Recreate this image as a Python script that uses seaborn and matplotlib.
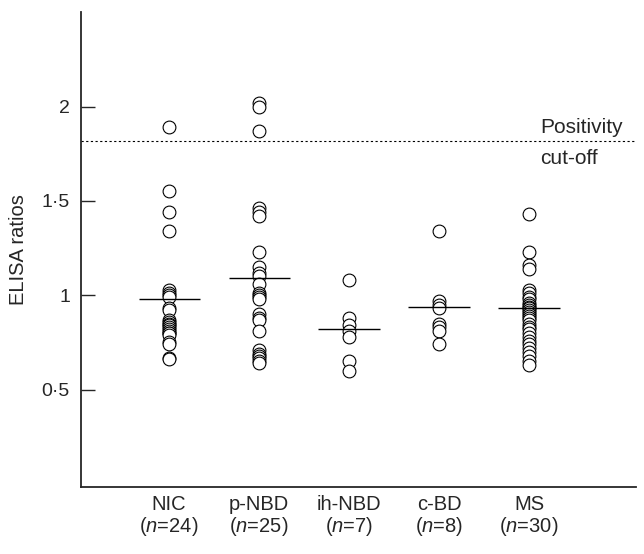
import matplotlib
matplotlib.use("Agg")
import matplotlib.pyplot as plt
import seaborn as sns
import pandas as pd

# Values
groups = ["NIC", "p-NBD", "ih-NBD", "c-BD", "MS"]
group_n = [24, 25, 7, 8, 30]
nic = [1.89, 1.55, 1.44, 1.34, 1.03, 1.01, 1.00, 0.99, 0.93, 0.92, 0.87, 0.86,
       0.85, 0.84, 0.83, 0.82, 0.81, 0.80, 0.80, 0.79, 0.75, 0.74, 0.67, 0.66]
p_nbd = [2.02, 2.00, 1.87, 1.46, 1.44, 1.42, 1.23, 1.15, 1.12, 1.10, 1.06, 1.01, 1.00,
         0.99, 0.98, 0.90, 0.88, 0.87, 0.81, 0.71, 0.69, 0.68, 0.67, 0.65, 0.64]
ih_nbd = [1.08, 0.88, 0.84, 0.81, 0.78, 0.65, 0.60]
c_bd = [1.34, 0.97, 0.95, 0.93, 0.85, 0.83, 0.81, 0.74]
ms = [1.43, 1.23, 1.16, 1.14, 1.03, 1.01, 0.99, 0.98, 0.96, 0.95, 0.94, 0.93, 0.92, 0.91,
      0.90, 0.89, 0.88, 0.87, 0.85, 0.83, 0.82, 0.80, 0.78, 0.76, 0.74, 0.72, 0.70, 0.68,
      0.65, 0.63]
medians = [0.98, 1.09, 0.82, 0.94, 0.935]
cutoff = 1.815
yticks = [0.5, 1, 1.5, 2]
ytick_labels = ["0·5", "1", "1·5", "2"]

sns.set_style("ticks")
plt.rcParams["font.family"] = ["Liberation Sans", "DejaVu Sans"]
plt.rcParams["mathtext.fontset"] = "custom"
plt.rcParams["mathtext.it"] = "Liberation Sans:italic"
plt.rcParams["mathtext.rm"] = "Liberation Sans"

df = pd.DataFrame({
    "group": [g for g, vals in zip(groups, [nic, p_nbd, ih_nbd, c_bd, ms]) for _ in vals],
    "ratio": nic + p_nbd + ih_nbd + c_bd + ms,
})

fig = plt.figure(figsize=(6.44, 5.54), dpi=100)
ax = fig.add_axes([0.1258, 0.1209, 0.8618, 0.8571])

sns.stripplot(data=df, x="group", y="ratio", order=groups, jitter=False,
              color="white", edgecolor="black", linewidth=0.8, size=9.2,
              ax=ax, zorder=3)

# median bars
for i, m in enumerate(medians):
    ax.hlines(m, i - 0.34, i + 0.34, color="black", lw=1.0, zorder=4)

ax.axhline(cutoff, color="black", lw=0.8, ls=(0, (2, 2.2)), zorder=1)
ax.text(4.12, cutoff + 0.075, "Positivity", ha="left", va="center", fontsize=15)
ax.text(4.12, cutoff - 0.09, "cut-off", ha="left", va="center", fontsize=15)

ax.set_xlim(-0.98, 5.19)
ax.set_ylim(-0.016, 2.5)
ax.set_yticks(yticks)
ax.set_yticklabels(ytick_labels, fontsize=14)
ax.set_xticks(range(len(groups)))
ax.set_xticklabels([f"{g}\n($\\it{{n}}$={n})" for g, n in zip(groups, group_n)],
                   fontsize=14.5, linespacing=1.05)
ax.tick_params(axis="y", direction="in", length=10, width=1, pad=8)
ax.tick_params(axis="x", length=0, pad=6)
ax.set_xlabel("")
ax.set_ylabel("ELISA ratios", fontsize=14.5, labelpad=10)
for side in ["top", "right"]:
    ax.spines[side].set_visible(False)
for side in ["left", "bottom"]:
    ax.spines[side].set_linewidth(1.3)

fig.savefig("out.png", dpi=100)
